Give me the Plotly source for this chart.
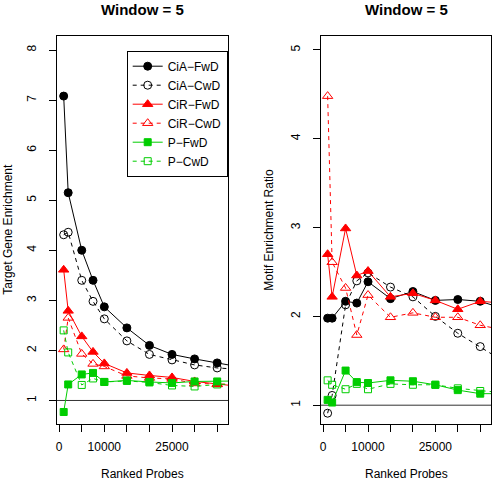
import plotly.graph_objects as go

# ---------------- data ----------------
probes = [1000, 2000, 5000, 7500, 10000, 15000, 20000, 25000, 30000, 35000, 40000]

series_names = ["CiA\u2212FwD", "CiA\u2212CwD", "CiR\u2212FwD", "CiR\u2212CwD", "P\u2212FwD", "P\u2212CwD"]

# Target Gene Enrichment (left panel)
cia_fwd_tge = [7.08, 5.15, 4.00, 3.40, 2.87, 2.45, 2.10, 1.92, 1.83, 1.75, 1.67]
cia_cwd_tge = [4.31, 4.36, 3.40, 2.98, 2.63, 2.19, 1.92, 1.81, 1.71, 1.65, 1.62]
cir_fwd_tge = [3.61, 2.79, 2.28, 1.97, 1.74, 1.55, 1.50, 1.46, 1.38, 1.32, 1.28]
cir_cwd_tge = [2.02, 2.65, 1.93, 1.73, 1.68, 1.49, 1.45, 1.43, 1.34, 1.33, 1.32]
p_fwd_tge = [0.77, 1.32, 1.52, 1.55, 1.37, 1.40, 1.37, 1.35, 1.38, 1.38, 1.39]
p_cwd_tge = [2.40, 1.96, 1.31, 1.44, 1.37, 1.39, 1.36, 1.30, 1.28, 1.32, 1.33]

# Motif Enrichment Ratio (right panel)
cia_fwd_mer = [1.98, 1.98, 2.17, 2.15, 2.39, 2.20, 2.28, 2.18, 2.19, 2.17, 2.09]
cia_cwd_mer = [0.91, 1.11, 2.13, 2.40, 2.49, 2.33, 2.22, 2.00, 1.81, 1.66, 1.50]
cir_fwd_mer = [2.70, 2.22, 2.99, 2.46, 2.51, 2.22, 2.26, 2.18, 2.08, 2.17, 2.15]
cir_cwd_mer = [4.48, 2.61, 2.32, 1.79, 2.24, 1.99, 2.04, 1.99, 1.99, 1.90, 1.85]
p_fwd_mer = [1.06, 1.03, 1.39, 1.26, 1.25, 1.28, 1.27, 1.23, 1.17, 1.13, 1.13]
p_cwd_mer = [1.28, 1.23, 1.18, 1.24, 1.18, 1.24, 1.23, 1.23, 1.19, 1.16, 1.14]

x_tickvals = [0, 5000, 10000, 15000, 20000, 25000, 30000, 35000]
x_ticktext = ["0", "", "10000", "", "", "25000", "", ""]
left_yticks = [1, 2, 3, 4, 5, 6, 7, 8]
right_yticks = [1, 2, 3, 4, 5]
ref_level = 1

panel_title = "Window = 5"
x_title = "Ranked Probes"
left_ytitle = "Target Gene Enrichment"
right_ytitle = "Motif Enrichment Ratio"

# ---------------- styles ----------------
BLACK = "#000000"
RED = "#FF0000"
GREEN = "#00CD00"
FONT = "Liberation Sans, Arial, sans-serif"

styles = [
    dict(color=BLACK, symbol="circle", dash="solid", size=8),
    dict(color=BLACK, symbol="circle-open", dash="4px,4px", size=8),
    dict(color=RED, symbol="triangle-up", dash="solid", size=9),
    dict(color=RED, symbol="triangle-up-open", dash="4px,4px", size=9),
    dict(color=GREEN, symbol="square", dash="solid", size=7),
    dict(color=GREEN, symbol="square-open", dash="4px,4px", size=7),
]

left_data = [cia_fwd_tge, cia_cwd_tge, cir_fwd_tge, cir_cwd_tge, p_fwd_tge, p_cwd_tge]
right_data = [cia_fwd_mer, cia_cwd_mer, cir_fwd_mer, cir_cwd_mer, p_fwd_mer, p_cwd_mer]

fig = go.Figure()

for name, st, ys in zip(series_names, styles, left_data):
    fig.add_trace(go.Scatter(
        x=probes, y=ys, mode="lines+markers", name=name,
        line=dict(color=st["color"], width=1, dash=st["dash"]),
        marker=dict(color=st["color"], symbol=st["symbol"], size=st["size"],
                    line=dict(color=st["color"], width=1)),
        xaxis="x", yaxis="y", showlegend=True, legendgroup=name,
    ))

for name, st, ys in zip(series_names, styles, right_data):
    fig.add_trace(go.Scatter(
        x=probes, y=ys, mode="lines+markers", name=name,
        line=dict(color=st["color"], width=1, dash=st["dash"]),
        marker=dict(color=st["color"], symbol=st["symbol"], size=st["size"],
                    line=dict(color=st["color"], width=1)),
        xaxis="x2", yaxis="y2", showlegend=False, legendgroup=name,
    ))

W, H = 492, 482
ytop, ybot = 36, 423.5
ydom = [1 - ybot / H, 1 - ytop / H]
lx0, lx1 = 57, 228
rx0, rx1 = 321, 491

axis_common = dict(
    showline=True, mirror=True, linecolor=BLACK, linewidth=1,
    ticks="outside", ticklen=7, tickcolor=BLACK, tickwidth=1,
    showgrid=False, zeroline=False,
    tickfont=dict(family=FONT, size=12, color=BLACK),
)

xrange = [-480, 37400]

fig.update_layout(
    width=W, height=H,
    margin=dict(l=0, r=0, t=0, b=0),
    paper_bgcolor="white", plot_bgcolor="white",
    font=dict(family=FONT, size=12, color=BLACK),
    xaxis=dict(domain=[lx0 / W, lx1 / W], range=xrange, tickvals=x_tickvals,
               ticktext=x_ticktext, anchor="y", ticklabelstandoff=5, **axis_common),
    yaxis=dict(domain=ydom, range=[0.54, 8.28], tickvals=left_yticks, anchor="x",
               tickangle=-90, ticklabelstandoff=8, **axis_common),
    xaxis2=dict(domain=[rx0 / W, rx1 / W], range=xrange, tickvals=x_tickvals,
                ticktext=x_ticktext, anchor="y2", ticklabelstandoff=5, **axis_common),
    yaxis2=dict(domain=ydom, range=[0.794, 5.157], tickvals=right_yticks, anchor="x2",
                tickangle=-90, ticklabelstandoff=8, **axis_common),
    legend=dict(x=126.7 / W, y=1 - 50.7 / H, xanchor="left", yanchor="top",
                bordercolor=BLACK, borderwidth=1, bgcolor="white",
                font=dict(family=FONT, size=12, color=BLACK),
                itemwidth=30, tracegroupgap=0),
)

# reference line at 1 on both panels
for xr, yr in (("x", "y"), ("x2", "y2")):
    fig.add_shape(type="line", xref=f"{xr} domain", yref=yr, x0=0, x1=1,
                  y0=ref_level, y1=ref_level, line=dict(color="#333333", width=1),
                  layer="below")

ann = []
for cx in ((lx0 + lx1) / 2, (rx0 + rx1) / 2):
    ann.append(dict(text=f"<b>{panel_title}</b>", x=cx / W, y=1 - 9 / H, xref="paper",
                    yref="paper", showarrow=False, xanchor="center", yanchor="middle",
                    font=dict(family=FONT, size=15, color=BLACK)))
    ann.append(dict(text=x_title, x=cx / W, y=1 - 474 / H, xref="paper", yref="paper",
                    showarrow=False, xanchor="center", yanchor="middle",
                    font=dict(family=FONT, size=12, color=BLACK)))
ymid = 1 - ((ytop + ybot) / 2) / H
ann.append(dict(text=left_ytitle, x=8 / W, y=ymid, xref="paper", yref="paper",
                showarrow=False, textangle=-90, xanchor="center", yanchor="middle",
                font=dict(family=FONT, size=12, color=BLACK)))
ann.append(dict(text=right_ytitle, x=269 / W, y=ymid, xref="paper", yref="paper",
                showarrow=False, textangle=-90, xanchor="center", yanchor="middle",
                font=dict(family=FONT, size=12, color=BLACK)))
fig.update_layout(annotations=ann)

fig.write_html(
    "out.html",
    config={"displayModeBar": False},
    post_script="document.body.style.margin='0';document.body.style.overflow='hidden';",
)
